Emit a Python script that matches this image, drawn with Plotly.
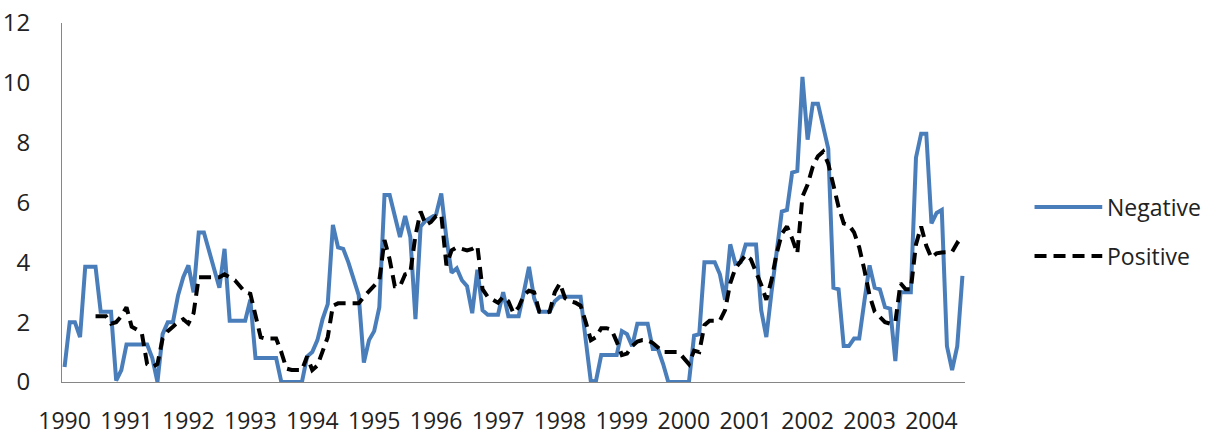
import plotly.graph_objects as go

# Monthly categories Jan 1990 .. Jul 2004
months = [f"{1990 + k // 12}-{k % 12 + 1:02d}" for k in range(175)]
year_labels = [str(y) for y in range(1990, 2005)]
year_ticks = [f"{y}-01" for y in range(1990, 2005)]

negative = [
    0.5, 2.0, 2.0, 1.5, 3.85, 3.85, 3.85, 2.35, 2.35, 2.35, 0.05, 0.4,
    1.25, 1.25, 1.25, 1.25, 1.25, 0.8, 0.0, 1.6, 2.0, 2.0, 2.9, 3.5,
    3.9, 3.0, 5.0, 5.0, 4.4, 3.8, 3.15, 4.45, 2.05, 2.05, 2.05, 2.05,
    2.75, 0.8, 0.8, 0.8, 0.8, 0.8, 0.0, 0.0, 0.0, 0.0, 0.0, 0.85,
    1.0, 1.4, 2.1, 2.6, 5.25, 4.5, 4.45, 4.0, 3.4, 2.9, 0.65, 1.4,
    1.7, 2.5, 6.25, 6.25, 5.55, 4.85, 5.55, 4.85, 2.1, 5.2, 5.4, 5.5,
    5.6, 6.3, 4.8, 3.65, 3.8, 3.4, 3.2, 2.3, 3.75, 2.4, 2.25, 2.25,
    2.25, 3.0, 2.2, 2.2, 2.2, 3.0, 3.85, 2.8, 2.35, 2.35, 2.35, 2.7,
    2.85, 2.85, 2.85, 2.85, 2.85, 1.4, 0.0, 0.05, 0.9, 0.9, 0.9, 0.9,
    1.7, 1.6, 1.2, 1.95, 1.95, 1.95, 1.1, 1.1, 0.6, 0.0, 0.0, 0.0,
    0.0, 0.0, 1.55, 1.6, 4.0, 4.0, 4.0, 3.6, 2.75, 4.6, 3.95, 4.0,
    4.6, 4.6, 4.6, 2.4, 1.5, 3.0, 4.3, 5.7, 5.75, 7.0, 7.05, 10.2,
    8.1, 9.3, 9.3, 8.5, 7.8, 3.15, 3.1, 1.2, 1.2, 1.45, 1.45, 2.7,
    3.9, 3.15, 3.1, 2.5, 2.45, 0.7, 3.0, 3.0, 3.0, 7.5, 8.3, 8.3,
    5.3, 5.65, 5.75, 1.2, 0.4, 1.2, 3.55,
]

positive = [
    None, None, None, None, None, None, 2.2, 2.2, 2.2, 1.95, 2.0, 2.2,
    2.5, 1.85, 1.75, 1.6, 0.6, 0.5, 0.6, 1.45, 1.7, 1.85, 2.0, 2.1,
    1.95, 2.3, 3.5, 3.5, 3.5, 3.5, 3.5, 3.6, 3.5, 3.4, 3.2, 3.0,
    2.95, 2.2, 1.5, 1.45, 1.45, 1.45, 1.0, 0.45, 0.4, 0.4, 0.4, 0.85,
    0.4, 0.55, 1.0, 1.5, 2.55, 2.63, 2.63, 2.63, 2.63, 2.63, 2.85, 3.05,
    3.2, 3.4, 4.75, 4.1, 3.2, 3.2, 3.6, 3.65, 4.9, 5.7, 5.25, 5.35,
    5.55, 5.6, 3.9, 4.4, 4.5, 4.45, 4.4, 4.45, 4.55, 3.1, 2.85, 2.75,
    2.65, 2.85, 2.7, 2.3, 2.5, 2.9, 3.05, 3.0, 2.35, 2.3, 2.35, 3.0,
    3.3, 2.8, 2.7, 2.65, 2.55, 2.0, 1.4, 1.5, 1.8, 1.8, 1.75, 1.35,
    0.9, 0.95, 1.2, 1.35, 1.4, 1.4, 1.3, 1.15, 1.0, 1.0, 1.0, 1.0,
    0.8, 0.6, 1.05, 1.0, 1.9, 2.05, 2.05, 2.05, 2.4, 3.3, 3.8, 4.05,
    4.25, 4.1, 3.7, 3.25, 2.75, 3.4, 4.3, 4.95, 5.2, 4.8, 4.3, 6.2,
    6.6, 7.2, 7.55, 7.7, 7.3, 6.5, 5.85, 5.3, 5.25, 5.0, 4.5, 3.75,
    2.9, 2.35, 2.15, 2.0, 1.95, 2.0, 3.3, 3.1, 3.1, 4.6, 5.2, 4.55,
    4.15, 4.3, 4.33, 4.33, 4.35, 4.65, 4.5,
]

series_names = ["Negative", "Positive"]
blue = "#4A7EBB"
font_family = "Open Sans, Noto Sans, sans-serif"

fig = go.Figure()
fig.add_trace(go.Scatter(x=months, y=negative, mode="lines", name=series_names[0],
                         line=dict(color=blue, width=4), showlegend=False))
fig.add_trace(go.Scatter(x=months, y=positive, mode="lines", name=series_names[1],
                         line=dict(color="black", width=4, dash="12px,7px"),
                         showlegend=False, connectgaps=False))

# custom legend (longer line samples, as in the reference)
leg = [(series_names[0], dict(color=blue, width=4), 0.4875),
       (series_names[1], dict(color="black", width=4, dash="12px,7px"), 0.351)]
for name, ln, yy in leg:
    fig.add_shape(type="line", xref="paper", yref="paper", x0=1.077, x1=1.152,
                  y0=yy, y1=yy, line=ln)
    fig.add_annotation(xref="paper", yref="paper", x=1.155, y=yy, text=name,
                       showarrow=False, xanchor="left", yanchor="middle",
                       font=dict(family=font_family, size=23, color="#222"))

fig.update_layout(
    width=1216, height=436,
    margin=dict(l=62, r=251, t=23, b=54),
    paper_bgcolor="white", plot_bgcolor="white",
    font=dict(family=font_family, size=24, color="#222"),
)
fig.update_xaxes(type="category", categoryorder="array", categoryarray=months,
                 tickmode="array", tickvals=year_ticks, ticktext=year_labels,
                 tickfont=dict(size=23),
                 showgrid=False, zeroline=False, showline=True, linecolor="#868686",
                 linewidth=1, ticks="", ticklabelstandoff=18, automargin=False,
                 range=[-0.5, len(months) - 0.5])
fig.update_yaxes(range=[0, 12], tickvals=[0, 2, 4, 6, 8, 10, 12],
                 showgrid=False, zeroline=False, showline=True, linecolor="#868686",
                 linewidth=1, ticks="", ticklabelstandoff=26, automargin=False)

fig.write_html("out.html", config={"displayModeBar": False},
               post_script="document.body.style.margin='0';document.body.style.overflow='hidden';")
